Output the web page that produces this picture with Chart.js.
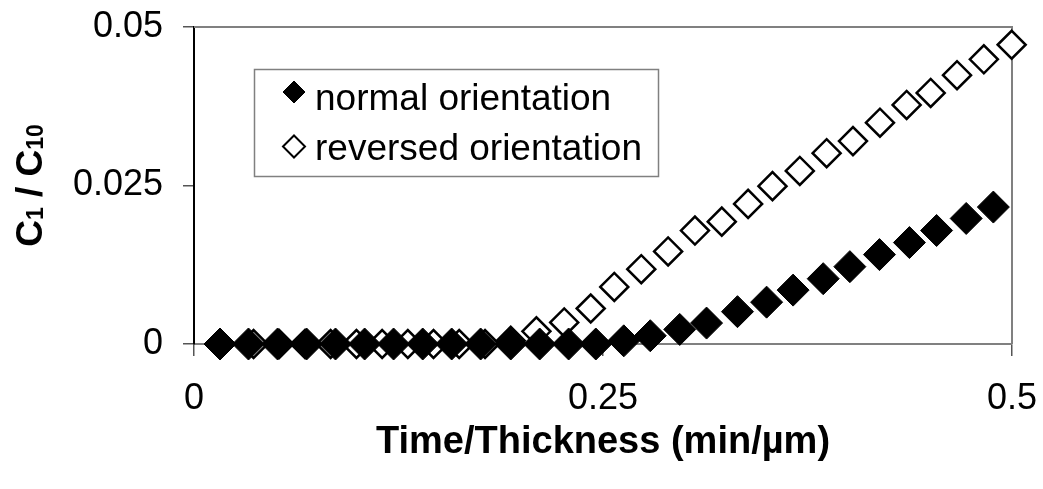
<!DOCTYPE html>
<html>
<head>
<meta charset="utf-8">
<script src="https://cdn.jsdelivr.net/npm/chart.js@4.4.0/dist/chart.umd.min.js"></script>
<style>
  html, body { margin:0; padding:0; background:#fff; }
  #c { display:block; }
</style>
</head>
<body>
<canvas id="c" width="1043" height="489"></canvas>
<script>
// values
const normalX = [0.0159, 0.0333, 0.0511, 0.0688, 0.0865, 0.1043, 0.1220, 0.1398, 0.1575, 0.1752,
    0.1936, 0.2113, 0.2290, 0.2456, 0.2627, 0.2789, 0.2969, 0.3133, 0.3322, 0.3500,
    0.3662, 0.3846, 0.4009, 0.4190, 0.4373, 0.4539, 0.4720, 0.4886];
const normalY = [0, 0, 0, 0, 0, 0, 0, 0, 0, 0,
    0, 0, 0, 0, 0.0005, 0.0013, 0.0023, 0.0033, 0.0051, 0.0066,
    0.0085, 0.0103, 0.0122, 0.0141, 0.0160, 0.0179, 0.0198, 0.0216];
const reversedX = [0.0364, 0.0521, 0.0678, 0.0835, 0.0993, 0.1150, 0.1307, 0.1464, 0.1621, 0.1779,
    0.1936, 0.2093, 0.2263, 0.2425, 0.2569, 0.2734, 0.2898, 0.3062, 0.3226, 0.3387,
    0.3536, 0.3703, 0.3867, 0.4028, 0.4193, 0.4356, 0.4503, 0.4664, 0.4828, 0.4998];
const reversedY = [0, 0, 0, 0, 0, 0, 0, 0, 0, 0,
    0.0005, 0.0020, 0.0034, 0.0056, 0.0090, 0.0118, 0.0146, 0.0179, 0.0193, 0.0221,
    0.0249, 0.0273, 0.0301, 0.0320, 0.0349, 0.0377, 0.0396, 0.0424, 0.0449, 0.0472];
const xTicks = [0, 0.25, 0.5];
const yTicks = [0, 0.025, 0.05];
const seriesNames = ['normal orientation', 'reversed orientation'];

const FONT = "'Liberation Sans', Arial, sans-serif";

function pts(xs, ys) {
    return xs.map((x, i) => ({x: x, y: ys[i]}));
}

function diamond(ctx, x, y, r) {
    ctx.beginPath();
    ctx.moveTo(x - r, y);
    ctx.lineTo(x, y - r);
    ctx.lineTo(x + r, y);
    ctx.lineTo(x, y + r);
    ctx.closePath();
}

// labels must not push the plot area around
function noPad(s) {
    s.paddingTop = 0;
    s.paddingBottom = 0;
    s.paddingLeft = 0;
    s.paddingRight = 0;
}

// grey top/right border of the plot area
const frame = {
    id: 'frame',
    beforeDatasetsDraw(chart) {
        const a = chart.chartArea, ctx = chart.ctx;
        ctx.save();
        ctx.strokeStyle = '#808080';
        ctx.lineWidth = 2;
        ctx.beginPath();
        ctx.moveTo(a.left, a.top);
        ctx.lineTo(a.right, a.top);
        ctx.lineTo(a.right, a.bottom);
        ctx.stroke();
        ctx.restore();
    }
};

// y title with subscripts (C1 / C10)
const yTitle = {
    id: 'yTitle',
    afterDraw(chart) {
        const ctx = chart.ctx, a = chart.chartArea;
        const parts = [['C', 37, 0], ['1', 23, 1], [' / C', 37, 0], ['10', 23, 1]];
        ctx.save();
        ctx.translate(28, (a.top + a.bottom) / 2);
        ctx.rotate(-Math.PI / 2);
        let w = 0;
        parts.forEach(p => {
            ctx.font = 'bold ' + p[1] + 'px ' + FONT;
            w += ctx.measureText(p[0]).width;
        });
        let x = -w / 2;
        ctx.fillStyle = '#000';
        ctx.textBaseline = 'alphabetic';
        parts.forEach(p => {
            ctx.font = 'bold ' + p[1] + 'px ' + FONT;
            ctx.fillText(p[0], x, 14 + p[2]);
            x += ctx.measureText(p[0]).width;
        });
        ctx.restore();
    }
};

// legend box inside the plot
const boxLegend = {
    id: 'boxLegend',
    afterDraw(chart) {
        const ctx = chart.ctx;
        ctx.save();
        ctx.fillStyle = '#fff';
        ctx.fillRect(254, 69, 405, 108);
        ctx.strokeStyle = '#808080';
        ctx.lineWidth = 1.5;
        ctx.strokeRect(254.5, 69.5, 404, 107);
        const markY = [92, 146.5];
        const textY = [110, 160];
        chart.data.datasets.forEach((ds, i) => {
            diamond(ctx, 294, markY[i], 11);
            ctx.fillStyle = ds.backgroundColor;
            ctx.fill();
            ctx.strokeStyle = '#000';
            ctx.lineWidth = i == 0 ? 1 : 2;
            ctx.stroke();
            ctx.fillStyle = '#000';
            ctx.font = '37px ' + FONT;
            ctx.textBaseline = 'alphabetic';
            ctx.fillText(ds.label, 315, textY[i]);
        });
        ctx.restore();
    }
};

new Chart(document.getElementById('c'), {
    type: 'scatter',
    data: {
        datasets: [{
            label: seriesNames[0],
            data: pts(normalX, normalY),
            pointStyle: 'rectRot',
            pointRadius: 16,
            backgroundColor: '#000',
            borderColor: '#000',
            borderWidth: 1,
            clip: false
        }, {
            label: seriesNames[1],
            data: pts(reversedX, reversedY),
            pointStyle: 'rectRot',
            pointRadius: 14,
            backgroundColor: '#fff',
            borderColor: '#000',
            borderWidth: 2.5,
            clip: false
        }]
    },
    options: {
        responsive: false,
        animation: false,
        layout: {autoPadding: false, padding: {left: 0, right: 31, top: 27, bottom: 0}},
        plugins: {
            legend: {display: false},
            tooltip: {enabled: false}
        },
        scales: {
            x: {
                type: 'linear',
                min: 0,
                max: 0.5,
                afterBuildTicks(s) { s.ticks = xTicks.map(v => ({value: v})); },
                afterFit(s) { s.height = 145; noPad(s); },
                border: {color: '#808080', width: 2},
                grid: {drawOnChartArea: false, tickLength: 12, color: '#555', lineWidth: 1.5},
                ticks: {
                    font: {family: FONT, size: 36},
                    color: '#000',
                    padding: 21,
                    maxRotation: 0,
                    callback: v => String(v)
                },
                title: {
                    display: true,
                    text: 'Time/Thickness (min/µm)',
                    font: {family: FONT, size: 38, weight: 'bold'},
                    color: '#000',
                    padding: {top: 0, bottom: 24}
                }
            },
            y: {
                type: 'linear',
                min: 0,
                max: 0.05,
                afterBuildTicks(s) { s.ticks = yTicks.map(v => ({value: v})); },
                afterFit(s) { s.width = 194; noPad(s); },
                border: {color: '#000', width: 2},
                grid: {drawOnChartArea: false, tickLength: 11, color: '#555', lineWidth: 1.5},
                ticks: {
                    font: {family: FONT, size: 36},
                    color: '#000',
                    padding: 20,
                    callback: v => String(v)
                }
            }
        }
    },
    plugins: [frame, yTitle, boxLegend]
});
</script>
</body>
</html>
